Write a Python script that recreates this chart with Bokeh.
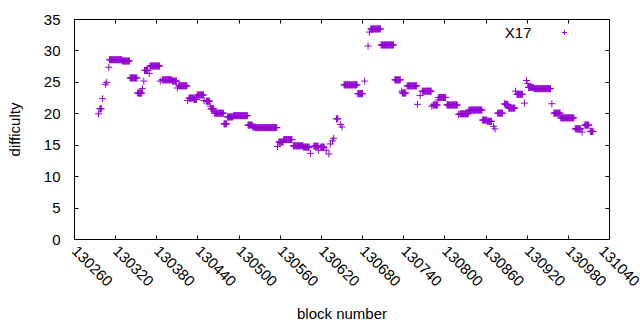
import numpy as np
from bokeh.plotting import figure
from bokeh.models import (FixedTicker, LinearAxis, Legend, LegendItem, Label,
                          Range1d, CustomJSTickFormatter, BasicTickFormatter)
from bokeh.embed import file_html
from bokeh.resources import INLINE

# ---- data: runs of constant difficulty (start block, end block, difficulty)
run_start = [130295, 130297, 130301, 130305, 130307, 130310, 130311, 130330, 130341, 130352,
             130359, 130361, 130362, 130369, 130370, 130385, 130388, 130403, 130410, 130412,
             130425, 130427, 130434, 130439, 130449, 130452, 130458, 130459, 130464, 130478,
             130483, 130492, 130513, 130520, 130524, 130556, 130558, 130565, 130579, 130594,
             130604, 130609, 130616, 130619, 130627, 130631, 130633, 130636, 130638, 130642,
             130648, 130650, 130653, 130673, 130683, 130688, 130690, 130692, 130707, 130727,
             130737, 130738, 130745, 130760, 130764, 130767, 130781, 130783, 130790, 130791,
             130803, 130820, 130822, 130835, 130855, 130862, 130871, 130873, 130877, 130887,
             130888, 130893, 130903, 130905, 130916, 130919, 130921, 130922, 130930, 130956,
             130959, 130969, 130990, 131000, 131004, 131012]
run_end = [130295, 130299, 130301, 130305, 130307, 130310, 130329, 130340, 130351, 130358,
           130359, 130361, 130367, 130369, 130384, 130385, 130402, 130409, 130410, 130424,
           130425, 130433, 130438, 130448, 130449, 130457, 130458, 130463, 130477, 130482,
           130491, 130512, 130519, 130523, 130555, 130556, 130564, 130577, 130593, 130602,
           130604, 130615, 130616, 130624, 130627, 130631, 130633, 130636, 130638, 130644,
           130648, 130650, 130672, 130680, 130683, 130688, 130690, 130706, 130725, 130735,
           130737, 130743, 130759, 130760, 130764, 130780, 130781, 130789, 130790, 130801,
           130818, 130820, 130834, 130854, 130861, 130868, 130871, 130873, 130884, 130887,
           130892, 130902, 130903, 130913, 130916, 130919, 130921, 130929, 130954, 130956,
           130968, 130988, 130998, 131000, 131010, 131016]
run_diff = [20.0, 20.8, 22.4, 24.7, 25.0, 27.4, 28.6, 28.4, 25.7, 23.3,
            24.0, 25.2, 26.9, 26.4, 27.6, 25.2, 25.4, 25.2, 24.1, 24.45,
            22.1, 22.5, 22.3, 23.0, 22.1, 22.0, 21.2, 20.8, 20.1, 18.4,
            19.5, 19.7, 18.2, 17.9, 17.8, 14.8, 15.5, 15.9, 14.9, 14.7,
            13.7, 14.85, 14.2, 14.7, 14.2, 13.6, 15.2, 15.7, 16.1, 19.2,
            18.3, 17.9, 24.6, 23.2, 25.2, 30.8, 33.0, 33.5, 30.95, 25.4,
            23.6, 23.3, 24.45, 21.5, 22.9, 23.6, 21.2, 21.4, 22.2, 22.6,
            21.4, 19.9, 20.0, 20.6, 19.0, 18.8, 18.0, 17.6, 20.1, 21.6,
            21.5, 20.9, 23.6, 23.1, 21.7, 25.3, 24.8, 24.2, 24.0, 21.6,
            20.1, 19.35, 17.6, 17.1, 18.2, 17.2]

x_ticks = [130260, 130320, 130380, 130440, 130500, 130560, 130620,
           130680, 130740, 130800, 130860, 130920, 130980, 131040]
y_ticks = [0, 5, 10, 15, 20, 25, 30, 35]
series_name = "X17"

blocks = np.concatenate([np.arange(s, e + 1) for s, e in zip(run_start, run_end)])
diffs = np.concatenate([np.full(e - s + 1, d) for s, e, d in zip(run_start, run_end, run_diff)])

COLOR = "#9400D3"
FONT = "Liberation Sans"
FS = "15px"

p = figure(frame_width=535, frame_height=220, output_backend="svg", toolbar_location=None,
           x_range=Range1d(130260, 131040), y_range=Range1d(0, 35),
           min_border_left=74, min_border_right=31, min_border_top=19, min_border_bottom=91)
p.grid.visible = False
p.outline_line_color = "black"
p.outline_line_width = 1
p.background_fill_color = "white"
p.border_fill_color = "white"

r = p.scatter(blocks, diffs, marker="cross", size=7, line_color=COLOR, line_width=1)

for ax in (p.xaxis[0], p.yaxis[0]):
    ax.major_tick_in = 4
    ax.major_tick_out = 0
    ax.minor_tick_line_color = None
    ax.major_label_text_font = FONT
    ax.major_label_text_font_size = FS
    ax.major_label_text_color = "black"
    ax.axis_label_text_font = FONT
    ax.axis_label_text_font_size = FS
    ax.axis_label_text_font_style = "normal"
    ax.axis_label_text_color = "black"

p.xaxis[0].ticker = FixedTicker(ticks=x_ticks)
p.xaxis[0].formatter = BasicTickFormatter(use_scientific=False)
p.yaxis[0].ticker = FixedTicker(ticks=y_ticks)
p.xaxis[0].major_label_orientation = -np.pi / 4
p.xaxis[0].major_label_standoff = 9
p.xaxis[0].axis_label = "block number"
p.xaxis[0].axis_label_standoff = 11
p.yaxis[0].major_label_standoff = 14
p.yaxis[0].axis_label = "difficulty"
p.yaxis[0].axis_label_standoff = 18

blank = CustomJSTickFormatter(code="return ''")
top = LinearAxis(ticker=FixedTicker(ticks=x_ticks), formatter=blank,
                 major_tick_in=4, major_tick_out=0, minor_tick_line_color=None,
                 major_label_standoff=0, axis_line_color=None)
right = LinearAxis(ticker=FixedTicker(ticks=y_ticks), formatter=blank,
                   major_tick_in=4, major_tick_out=0, minor_tick_line_color=None,
                   major_label_standoff=0, axis_line_color=None)
p.add_layout(top, "above")
p.add_layout(right, "right")

legend = Legend(items=[LegendItem(label=" ", renderers=[r])], location=(484, 201),
                padding=0, margin=0, spacing=0, glyph_width=12, glyph_height=12,
                label_standoff=0, label_width=0, label_height=12,
                border_line_color=None, background_fill_alpha=0,
                label_text_font_size="1px")
p.add_layout(legend)

p.add_layout(Label(x=457, y=207, x_units="screen", y_units="screen", text=series_name,
                   text_align="right", text_baseline="middle", text_font=FONT,
                   text_font_size=FS, text_color="black"))

open("out.html", "w").write(file_html(p, INLINE))
